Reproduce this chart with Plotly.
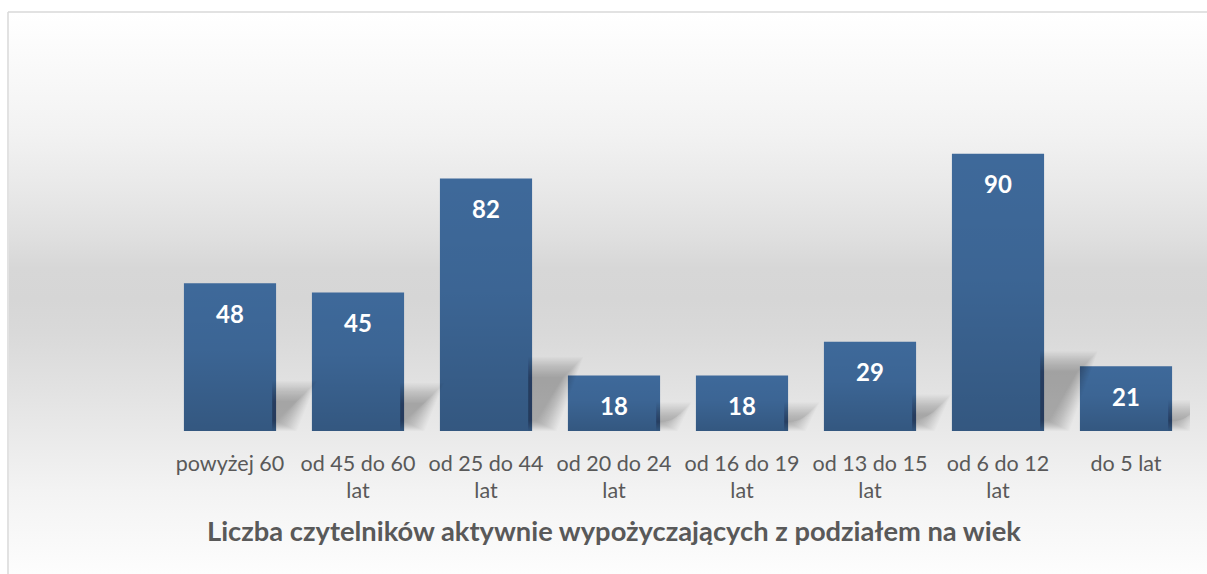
import plotly.graph_objects as go

categories = ["powyżej 60", "od 45 do 60<br>lat", "od 25 do 44<br>lat", "od 20 do 24<br>lat",
              "od 16 do 19<br>lat", "od 13 do 15<br>lat", "od 6 do 12<br>lat", "do 5 lat"]
values = [48, 45, 82, 18, 18, 29, 90, 21]
title_text = "Liczba czytelników aktywnie wypożyczających z podziałem na wiek"

W, H = 1207, 574
FONT = "Lato"
TXT = "#595959"
BAR = "#3e699a"
HALF = 0.36  # half bar width in category units

PLOT_L, PLOT_R, PLOT_T, PLOT_B = 166, 1190, 123, 431
YMAX = 100
UX = (PLOT_R - PLOT_L) / len(categories)  # px per category
UY = (PLOT_B - PLOT_T) / YMAX               # px per value unit


def px(x):
    return x / W


def py(y):
    return (H - y) / H


fig = go.Figure()

# background gradient (full chart area) on a full-size helper axis pair
bg_top = py(13)
bg_scale = [
    [0.000, "#fdfdfd"], [0.060, "#f9f9f9"], [0.150, "#f3f3f3"], [0.245, "#eaeaea"],
    [0.340, "#e1e1e1"], [0.430, "#d9d9d9"], [0.490, "#d6d6d6"], [0.545, "#d7d7d7"],
    [0.600, "#dfdfdf"], [0.690, "#e9e9e9"], [0.785, "#f2f2f2"], [0.880, "#f8f8f8"],
    [0.965, "#fdfdfd"], [1.000, "#ffffff"]]
fig.add_trace(go.Scatter(
    x=[px(9), 1, 1, px(9), px(9)], y=[0, 0, bg_top, bg_top, 0],
    mode="lines", line=dict(width=0), fill="toself",
    fillgradient=dict(type="vertical", colorscale=bg_scale),
    hoverinfo="skip", showlegend=False, xaxis="x", yaxis="y"))

idx = list(range(len(categories)))

# soft perspective shadows behind the bars (layered parallelograms imitate blur)
NL = 18
BLUR = 10
for i, v in zip(idx, values):
    hp = v * UY
    L = 16 + 0.1 * hp
    Hs = 6 + 0.23 * hp
    R = i + HALF
    for k in range(NL):
        d = BLUR * (2 * k / (NL - 1) - 1)
        yb = (5 + 0.5 * d) / UY
        yt = (Hs - d) / UY
        xs = [R - 4 / UX, R + (0.35 * L - d) / UX, R + (L - d) / UX, R - 4 / UX, R - 4 / UX]
        ys = [yb, yb, yt, yt, yb]
        fig.add_trace(go.Scatter(
            x=xs, y=ys, mode="lines", line=dict(width=0), fill="toself",
            fillcolor="rgba(0,0,0,0.015)",
            hoverinfo="skip", showlegend=False, xaxis="x2", yaxis="y2"))

# bars
fig.add_trace(go.Bar(
    x=idx, y=values, width=2 * HALF,
    marker=dict(color=BAR, line=dict(width=0)),
    customdata=[c.replace("<br>", " ") for c in categories],
    hovertemplate="%{customdata}: %{y}<extra></extra>",
    showlegend=False, xaxis="x2", yaxis="y2"))

# darkening gradient toward the bottom of each bar
for i, v in zip(idx, values):
    fig.add_trace(go.Scatter(
        x=[i - HALF, i + HALF, i + HALF, i - HALF, i - HALF], y=[0, 0, v, v, 0],
        mode="lines", line=dict(width=0), fill="toself",
        fillgradient=dict(type="vertical", colorscale=[
            [0, "rgba(0,0,0,0.17)"], [0.55, "rgba(0,0,0,0.04)"], [1, "rgba(0,0,0,0)"]]),
        hoverinfo="skip", showlegend=False, xaxis="x2", yaxis="y2"))

for i, v in zip(idx, values):
    fig.add_annotation(x=i, y=v, xref="x2", yref="y2", text=f"<b>{v}</b>",
                       showarrow=False, yanchor="middle", yshift=-30,
                       font=dict(family=FONT, size=24, color="white"))

fig.add_annotation(x=px(614), y=py(530), xref="paper", yref="paper",
                   xanchor="center", yanchor="middle",
                   text=f"<b>{title_text}</b>", showarrow=False,
                   font=dict(family=FONT, size=27.3, color=TXT))

# chart border lines (top and left)
fig.add_shape(type="line", xref="paper", yref="paper", x0=px(8), x1=1, y0=py(12), y1=py(12),
              line=dict(color="#d9d9d9", width=1.5))
fig.add_shape(type="line", xref="paper", yref="paper", x0=px(8), x1=px(8), y0=0, y1=py(12),
              line=dict(color="#d9d9d9", width=1.5))

fig.update_layout(
    width=W, height=H, margin=dict(l=0, r=0, t=0, b=0),
    paper_bgcolor="white", plot_bgcolor="rgba(0,0,0,0)",
    font=dict(family=FONT, color=TXT),
    xaxis=dict(domain=[0, 1], range=[0, 1], visible=False, fixedrange=True),
    yaxis=dict(domain=[0, 1], range=[0, 1], visible=False, fixedrange=True),
    xaxis2=dict(domain=[px(PLOT_L), px(PLOT_R)], anchor="y2", range=[-0.5, len(categories) - 0.5],
                tickmode="array", tickvals=idx, ticktext=categories,
                showgrid=False, showline=False, zeroline=False, ticks="",
                ticklabelstandoff=17,
                tickfont=dict(family=FONT, size=21.5, color=TXT)),
    yaxis2=dict(domain=[py(PLOT_B), py(PLOT_T)], anchor="x2", range=[0, YMAX],
                visible=False, showgrid=False, zeroline=False),
)

fig.write_html(
    "out.html",
    config={"displayModeBar": False},
    post_script="document.body.style.margin='0';document.body.style.overflow='hidden';",
)
